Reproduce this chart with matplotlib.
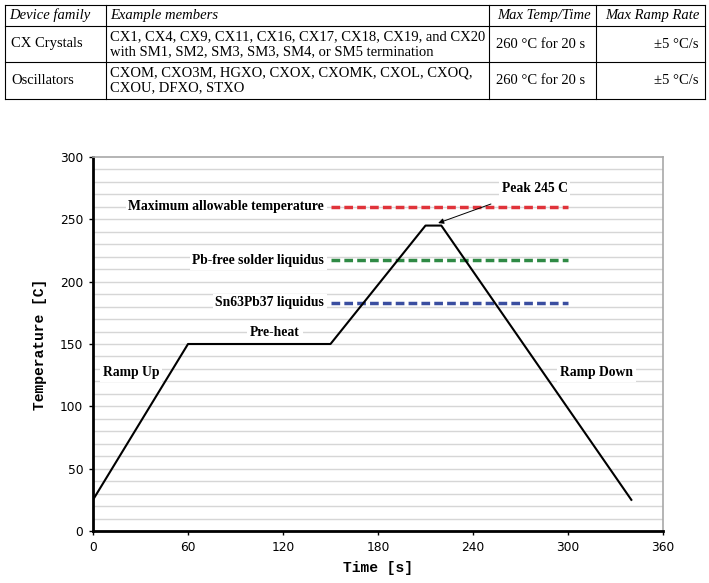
import numpy as np
import matplotlib
matplotlib.use("Agg")
import matplotlib.pyplot as plt
from matplotlib.lines import Line2D

# reflow profile (time s, temperature C)
profile_t = [0, 60, 150, 210, 220, 340]
profile_T = [25, 150, 150, 245, 245, 25]

# reference levels
level_names = ["Maximum allowable temperature", "Pb-free solder liquidus", "Sn63Pb37 liquidus"]
level_values = [260, 217, 183]
level_colors = ["#e0333a", "#2f8a45", "#3a4ea0"]
level_start, level_end = 150, 300

# table contents
table_header = ["Device family", "Example members", "Max Temp/Time", "Max Ramp Rate"]
table_rows = [
    ["CX Crystals",
     "CX1, CX4, CX9, CX11, CX16, CX17, CX18, CX19, and CX20\nwith SM1, SM2, SM3, SM3, SM4, or SM5 termination",
     "260 \u00b0C for 20 s", "\u00b15 \u00b0C/s"],
    ["Oscillators",
     "CXOM, CXO3M, HGXO, CXOX, CXOMK, CXOL, CXOQ,\nCXOU, DFXO, STXO",
     "260 \u00b0C for 20 s", "\u00b15 \u00b0C/s"],
]

W, H = 709, 583
fig = plt.figure(figsize=(W / 100, H / 100), dpi=100)

serif = "Liberation Serif"
mono = "Liberation Mono"
tfs = 10.5

# ---- table drawn in pixel coords ----
def px(x, y):
    return x / W, 1 - y / H

col_x = [5, 106, 489, 596, 705]
row_y = [5, 26, 62, 99]
for x in col_x:
    fig.add_artist(Line2D([x / W, x / W], [1 - row_y[0] / H, 1 - row_y[-1] / H], color="black", lw=0.8))
for y in row_y:
    fig.add_artist(Line2D([col_x[0] / W, col_x[-1] / W], [1 - y / H, 1 - y / H], color="black", lw=0.8))

hy = (row_y[0] + row_y[1]) / 2
for i, h in enumerate(table_header):
    if i < 2:
        fig.text(*px(col_x[i] + 4, hy), h, fontsize=tfs, family=serif, style="italic", va="center", ha="left")
    else:
        fig.text(*px(col_x[i + 1] - 5, hy), h, fontsize=tfs, family=serif, style="italic", va="center", ha="right")

for r, row in enumerate(table_rows):
    cy = (row_y[r + 1] + row_y[r + 2]) / 2
    fig.text(*px(col_x[0] + 6, cy), row[0], fontsize=tfs, family=serif, va="center", ha="left")
    fig.text(*px(col_x[1] + 4, cy), row[1], fontsize=tfs, family=serif, va="center", ha="left", linespacing=1.2)
    fig.text(*px(col_x[3] - 11, cy), row[2], fontsize=tfs, family=serif, va="center", ha="right")
    fig.text(*px(col_x[4] - 6, cy), row[3], fontsize=tfs, family=serif, va="center", ha="right")

# ---- chart ----
ax = fig.add_axes([93 / W, 1 - 531 / H, 570 / W, 374 / H])

for y in np.arange(10, 300, 10):
    ax.axhline(y, color="#d6d6d6", lw=1.0, zorder=0)

for name, val, c in zip(level_names, level_values, level_colors):
    ax.plot([level_start, level_end], [val, val], color=c, lw=2.5, dashes=(2.5, 1.2), zorder=2)
    ax.text(level_start - 4, val, name, ha="right", va="center", fontsize=9.8, family=serif,
            fontweight="bold", bbox=dict(facecolor="white", edgecolor="none", pad=2), zorder=3)

ax.plot(profile_t, profile_T, color="black", lw=1.5, zorder=4)

txt = dict(fontsize=9.8, family=serif, fontweight="bold",
           bbox=dict(facecolor="white", edgecolor="none", pad=2), zorder=3)
ax.text(115, 159, "Pre-heat", ha="center", va="center", **txt)
ax.text(24, 127, "Ramp Up", ha="center", va="center", **txt)
ax.text(318, 127, "Ramp Down", ha="center", va="center", **txt)
ax.annotate("Peak 245 C", xy=(218, 247), xytext=(279, 275), ha="center", va="center",
            fontsize=9.8, family=serif, fontweight="bold",
            bbox=dict(facecolor="white", edgecolor="none", pad=2),
            arrowprops=dict(arrowstyle="-|>", color="black", lw=0.7, mutation_scale=8,
                            shrinkA=14, shrinkB=0), zorder=5)

ax.set_xlim(0, 360)
ax.set_ylim(0, 300)
ax.set_xticks(np.arange(0, 361, 60))
ax.set_yticks(np.arange(0, 301, 50))
ax.tick_params(direction="out", length=3, width=1, labelsize=8.8, pad=4)
for lab in ax.get_xticklabels() + ax.get_yticklabels():
    lab.set_family("DejaVu Sans")
ax.set_xlabel("Time [s]", family=mono, fontweight="bold", fontsize=10.5, labelpad=5)
ax.set_ylabel("Temperature [C]", family=mono, fontweight="bold", fontsize=10.5, labelpad=9)

ax.spines["left"].set_linewidth(2)
ax.spines["bottom"].set_linewidth(2)
ax.spines["top"].set_color("#a8a8a8")
ax.spines["right"].set_color("#a8a8a8")
ax.spines["top"].set_linewidth(1.2)
ax.spines["right"].set_linewidth(1.2)

fig.savefig("out.png", dpi=100)
